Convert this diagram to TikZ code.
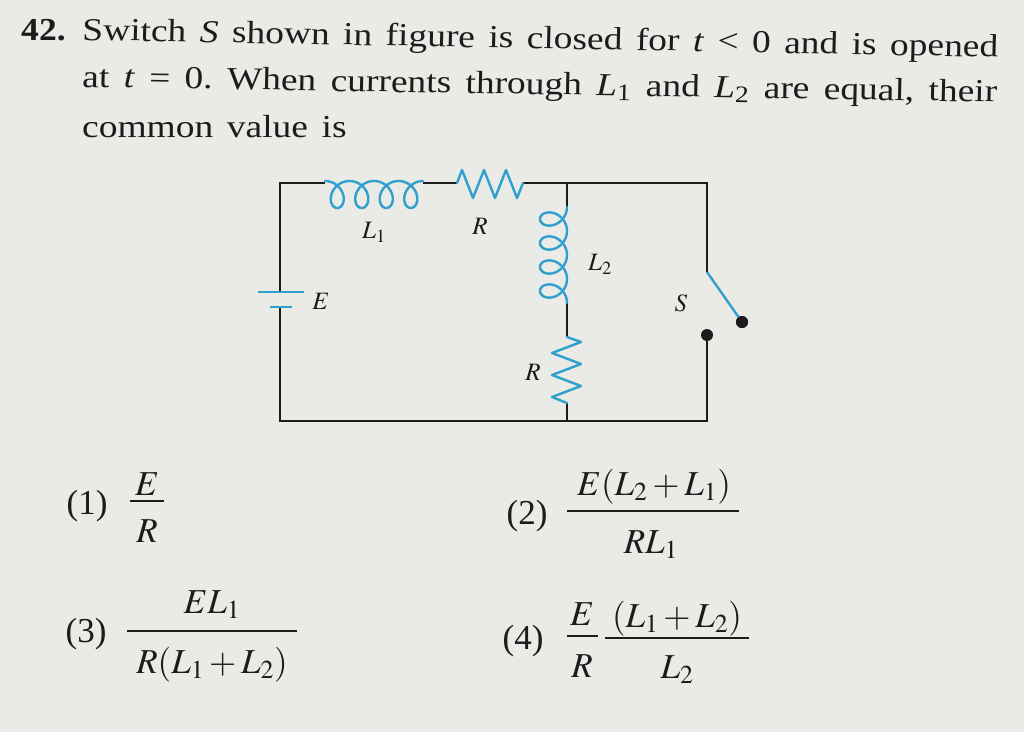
\documentclass[tikz,border=0pt]{standalone}
\usepackage{mathptmx}
\usepackage{fontspec}
\setmainfont{Liberation Serif}
\definecolor{paper}{RGB}{234,234,231}
\definecolor{ink}{RGB}{28,28,28}
\definecolor{cblue}{RGB}{48,160,205}
\frenchspacing
\begin{document}
\begin{tikzpicture}[x=1pt,y=-1pt,
  wire/.style={line width=2.4pt, draw=ink, line join=miter},
  comp/.style={line width=2.4pt, draw=cblue, line join=round, line cap=round},
  lbl/.style={inner sep=0pt, text=ink, font=\fontsize{25}{30}\selectfont},
  txt/.style={inner sep=0pt, anchor=base west, text=ink, font=\fontsize{32}{40}\selectfont, xscale=1.17},
  opt/.style={inner sep=0pt, anchor=base, text=ink, font=\fontsize{35}{40}\selectfont},
  fbar/.style={line width=2.2pt, draw=ink},
  dotc/.style={circle, fill=ink, inner sep=0pt, minimum size=12pt}]
\path[fill=paper, use as bounding box] (0,0) rectangle (1024,732);

% ---------- question text ----------
\node[txt, font=\fontsize{32}{40}\selectfont\bfseries, xscale=0.95] (n42) at (21,40) {42.};
\node[txt, rotate=-1.25] (q1) at (82,40) {\makebox[783pt][s]{Switch \textit{S} shown in figure is closed for \textit{t} < 0 and is opened}};
\node[txt, rotate=-1.1] (q2) at (82,87) {\makebox[782pt][s]{at \textit{t} = 0. When currents through \textit{L}\textsubscript{1} and \textit{L}\textsubscript{2} are equal, their}};
\node[txt, rotate=-0.2] (q3) at (82,137) {\makebox[226pt][s]{common value is}};

% ---------- circuit ----------
\coordinate (tl) at (280,183);
\coordinate (tr) at (707,183);
\coordinate (bl) at (280,421);
\coordinate (br) at (707,421);
\coordinate (jt) at (567,183);
\coordinate (jb) at (567,421);
\coordinate (l1a) at (325,183);
\coordinate (l1b) at (423,183);
\coordinate (r1a) at (457,183);
\coordinate (r1b) at (523,183);
\coordinate (l2a) at (567,207);
\coordinate (l2b) at (567,303);
\coordinate (r2a) at (567,337);
\coordinate (r2b) at (567,403);
\coordinate (bp) at (280,292);
\coordinate (bn) at (280,307);
\coordinate (sw1) at (707,272);
\node[dotc] (swd) at (742,322) {};
\node[dotc] (swc) at (707,335) {};

% wires
\draw[wire] (bp) -- (tl) -- (l1a);
\draw[wire] (l1b) -- (r1a);
\draw[wire] (r1b) -- (tr) -- (sw1);
\draw[wire] (jt) -- (l2a);
\draw[wire] (l2b) -- (r2a);
\draw[wire] (r2b) -- (jb);
\draw[wire] (bn) -- (bl) -- (br) -- (swc.center);

% battery
\draw[comp, line cap=butt] (258,292) -- (304,292);
\draw[comp, line cap=butt] (270,307) -- (292,307);

% inductor L1
\draw[comp] plot[domain=0:25.1327, samples=300, smooth]
  ({325+3.9*\x+12*sin(\x r)},{181+13.5*(1-cos(\x r))});
% resistor R (top)
\draw[comp] (r1a) -- (462,170) -- (473,198) -- (484,170) -- (495,198) -- (506,170) -- (517,198) -- (r1b);
% inductor L2
\draw[comp] plot[domain=0:25.1327, samples=300, smooth]
  ({567-13.5*(1-cos(\x r))},{207+3.82*\x+12*sin(\x r)});
% resistor R (vertical)
\draw[comp] (r2a) -- (581,342) -- (552,353) -- (581,364) -- (552,375) -- (581,386) -- (552,397) -- (r2b);
% switch blade
\draw[comp, line cap=butt] (sw1) -- (swd.center);
\node[dotc] at (swd) {};

% labels
\node[lbl] (lE) at (321,301) {$E$};
\node[lbl] (lL1) at (374,232) {$L_1$};
\node[lbl] (lR1) at (480,226) {$R$};
\node[lbl] (lL2) at (600,264) {$L_2$};
\node[lbl] (lR2) at (533,372) {$R$};
\node[lbl] (lS) at (681,303) {$S$};

% ---------- options ----------
\node[opt] (o1) at (87,514) {(1)};
\node[opt] (f1n) at (147,495) {$E$};
\draw[fbar] (130,501) -- (164,501);
\node[opt] (f1d) at (147,542) {$R$};

\node[opt] (o2) at (527,524) {(2)};
\node[opt] (f2n) at (654,495) {$E(L_2+L_1)$};
\draw[fbar] (567,511) -- (739,511);
\node[opt] (f2d) at (651,553) {$RL_1$};

\node[opt] (o3) at (86,642) {(3)};
\node[opt] (f3n) at (212,613) {$EL_1$};
\draw[fbar] (127,631) -- (297,631);
\node[opt] (f3d) at (212,673) {$R(L_1+L_2)$};

\node[opt] (o4) at (523,649) {(4)};
\node[opt] (f4n) at (582,625) {$E$};
\draw[fbar] (567,636) -- (598,636);
\node[opt] (f4d) at (582,677) {$R$};
\node[opt] (f5n) at (677,627) {$(L_1+L_2)$};
\draw[fbar] (605,638) -- (749,638);
\node[opt] (f5d) at (677,678) {$L_2$};
\end{tikzpicture}
\end{document}
